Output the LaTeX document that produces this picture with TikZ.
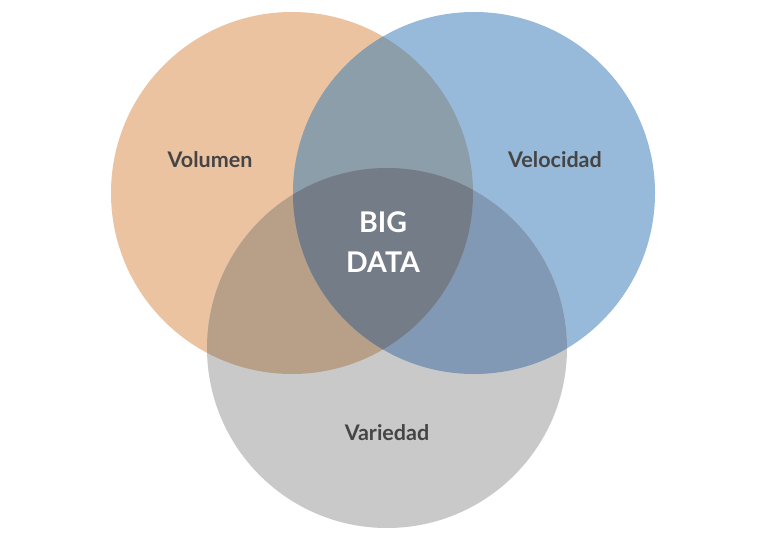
\documentclass[tikz,border=0pt]{standalone}
\usepackage{fontspec}
\setmainfont{Lato}
\definecolor{cO}{HTML}{EBC3A0}
\definecolor{cB}{HTML}{97B9DA}
\definecolor{cG}{HTML}{C9C9C9}
\definecolor{cOB}{HTML}{8D9EAB}
\definecolor{cOG}{HTML}{B89F88}
\definecolor{cBG}{HTML}{8199B4}
\definecolor{cC}{HTML}{747C87}
\definecolor{txt}{HTML}{454545}
\begin{document}
\begin{tikzpicture}[x=1pt,y=-1pt,
  lbl/.style={font=\fontsize{21.5}{24}\selectfont\bfseries, text=txt},
  big/.style={font=\fontsize{28.5}{32}\selectfont\bfseries, text=white}]
\useasboundingbox (0,0) rectangle (768,548);
\fill[white] (0,0) rectangle (768,548);
\def\cO{(292,193) circle[radius=181]}
\def\cB{(474,193) circle[radius=181]}
\def\cG{(387,348) circle[radius=180]}
\fill[cO] \cO;
\fill[cB] \cB;
\fill[cG] \cG;
\begin{scope}\clip \cO; \fill[cOB] \cB; \end{scope}
\begin{scope}\clip \cO; \fill[cOG] \cG; \end{scope}
\begin{scope}\clip \cB; \fill[cBG] \cG; \end{scope}
\begin{scope}\clip \cO; \clip \cB; \fill[cC] \cG; \end{scope}
\node[lbl] (vol) at (210,160) {Volumen};
\node[lbl] (vel) at (555,160) {Velocidad};
\node[lbl] (var) at (387,433) {Variedad};
\node[big] (bg) at (383,222) {BIG};
\node[big] (dt) at (383,262) {DATA};
\end{tikzpicture}
\end{document}
